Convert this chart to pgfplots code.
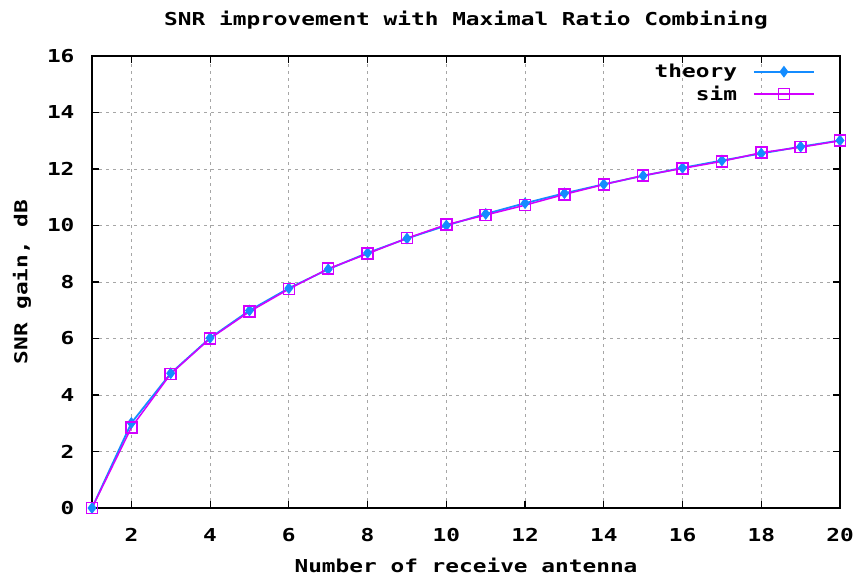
\documentclass[border=0pt]{standalone}
\usepackage{pgfplots}
\pgfplotsset{compat=1.18}
\usepackage{fontspec}
\newfontfamily\gpfamily{DejaVu Sans Mono}[FakeStretch=1.28]
\newcommand\gpfont{\gpfamily\bfseries\fontsize{17.8}{20}\selectfont}
\definecolor{theoryblue}{RGB}{20,140,255}
\definecolor{simmag}{RGB}{210,0,255}
\begin{document}
\begin{tikzpicture}
\begin{axis}[
    scale only axis, width=748pt, height=452pt,
    xmin=1, xmax=20, ymin=0, ymax=16,
    xtick={2,4,...,20}, ytick={0,2,...,16},
    tick align=inside, tick pos=both,
    major tick length=7pt,
    axis line style={line width=1.3pt},
    every tick/.style={black, line width=1.2pt},
    grid=major,
    major grid style={gray!70, line width=0.9pt, dash pattern=on 3pt off 4pt},
    /pgf/number format/assume math mode=true,
    tick label style={font=\gpfont},
    yticklabel style={xshift=-14pt},
    xticklabel style={yshift=-17pt},
    title={SNR improvement with Maximal Ratio Combining},
    title style={font=\gpfont, at={(0.5,1)}, anchor=center, yshift=30pt},
    xlabel={Number of receive antenna},
    xlabel style={font=\gpfont, at={(0.5,0)}, anchor=center, yshift=-57pt},
    ylabel={SNR gain, dB},
    ylabel style={font=\gpfont, at={(0,0.5)}, anchor=center, yshift=70pt},
    legend style={at={(1,1)}, anchor=north east, draw=none, fill=none,
        xshift=-22pt, yshift=-4pt, font=\gpfont, row sep=3pt,
        /tikz/every odd column/.append style={column sep=14pt}},
    legend cell align=right,
    legend plot pos=right,
    legend image code/.code={\draw[mark repeat=2, mark phase=2, #1]
        plot coordinates {(0pt,0pt) (30pt,0pt) (60pt,0pt)};},
]
\addplot[theoryblue, line width=1.8pt, mark=diamond*, mark size=4.5pt,
    mark options={solid, fill=theoryblue}] coordinates {
    (1,0) (2,3.01) (3,4.77) (4,6.02) (5,6.99) (6,7.78) (7,8.45) (8,9.03)
    (9,9.54) (10,10.00) (11,10.41) (12,10.79) (13,11.14) (14,11.46)
    (15,11.76) (16,12.04) (17,12.30) (18,12.55) (19,12.79) (20,13.01)
};
\addlegendentry{theory}
\addplot[simmag, line width=1.5pt, mark=square, mark size=5.5pt,
    mark options={solid, line width=1.5pt}] coordinates {
    (1,0) (2,2.85) (3,4.75) (4,6.00) (5,6.95) (6,7.75) (7,8.47) (8,9.00)
    (9,9.55) (10,10.03) (11,10.37) (12,10.72) (13,11.10) (14,11.45)
    (15,11.77) (16,12.02) (17,12.27) (18,12.58) (19,12.77) (20,13.00)
};
\addlegendentry{sim}
\end{axis}
\pgfresetboundingbox
\path[use as bounding box] ([xshift=-92pt,yshift=-70pt]current axis.south west)
    rectangle ([xshift=18pt,yshift=56pt]current axis.north east);
\end{tikzpicture}
\end{document}
